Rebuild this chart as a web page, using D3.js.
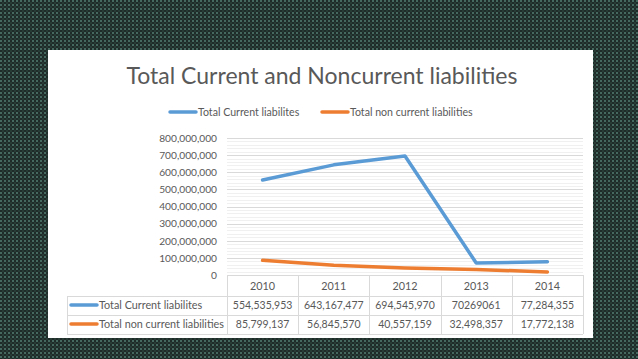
<!DOCTYPE html>
<html lang="en">
<head>
    <meta charset="UTF-8">
    <script src="https://d3js.org/d3.v7.min.js"></script>
    <title>Total Current and Noncurrent liabilities</title>
    <style>
        body { margin: 0; background: #26332f; }
        svg { display: block; }
    </style>
</head>
<body>
    <div id="chart"></div>
    <script>
        // data
        const years = ["2010", "2011", "2012", "2013", "2014"];
        const currentLiab = [554535953, 643167477, 694545970, 70269061, 77284355];
        const nonCurrentLiab = [85799137, 56845570, 40557159, 32498357, 17772138];
        const currentText = ["554,535,953", "643,167,477", "694,545,970", "70269061", "77,284,355"];
        const nonCurrentText = ["85,799,137", "56,845,570", "40,557,159", "32,498,357", "17,772,138"];
        const yTicks = [0, 100000000, 200000000, 300000000, 400000000, 500000000, 600000000, 700000000, 800000000];

        const seriesNames = ["Total Current liabilites", "Total non current liabilities"];
        const colors = ["#5b9bd5", "#ed7d31"];

        const W = 638, H = 359;
        const font = "Lato, 'Open Sans', sans-serif";
        const grey = "#595959";

        const svg = d3.select("#chart").append("svg")
            .attr("width", W)
            .attr("height", H);

        // dotted dark background
        const defs = svg.append("defs");
        const pat = defs.append("pattern")
            .attr("id", "dots")
            .attr("width", 4).attr("height", 4)
            .attr("patternUnits", "userSpaceOnUse");
        pat.append("rect").attr("width", 4).attr("height", 4).attr("fill", "#1f2b28");
        pat.append("rect").attr("x", 0).attr("y", 0).attr("width", 2).attr("height", 2).attr("fill", "#45695e");
        pat.append("rect").attr("x", 2).attr("y", 2).attr("width", 2).attr("height", 2).attr("fill", "#33504772");

        svg.append("rect").attr("width", W).attr("height", H).attr("fill", "url(#dots)");

        // white card
        svg.append("rect")
            .attr("x", 48).attr("y", 50)
            .attr("width", 545).attr("height", 288)
            .attr("fill", "#ffffff");

        // title
        svg.append("text")
            .attr("x", 322).attr("y", 84)
            .attr("text-anchor", "middle")
            .attr("font-family", font)
            .attr("font-size", 23)
            .attr("fill", grey)
            .text("Total Current and Noncurrent liabilities");

        // legend
        const legendPos = [170, 322];
        seriesNames.forEach((name, i) => {
            const g = svg.append("g").attr("transform", `translate(${legendPos[i]},112)`);
            g.append("line")
                .attr("x1", 0).attr("x2", 26)
                .attr("stroke", colors[i])
                .attr("stroke-width", 3.5)
                .attr("stroke-linecap", "round");
            g.append("text")
                .attr("x", 28).attr("y", 4)
                .attr("font-family", font)
                .attr("font-size", 10.6)
                .attr("fill", grey)
                .text(name);
        });

        // scales
        const plotLeft = 227, plotRight = 583;
        const x = d3.scaleBand().domain(years).range([plotLeft, plotRight]).padding(0);
        const y = d3.scaleLinear().domain([0, 800000000]).range([275, 138]);
        const cx = d => x(d) + x.bandwidth() / 2;

        // gridlines (minor + major)
        const minorTicks = d3.range(0, 800000001, 20000000);
        svg.append("g").selectAll("line")
            .data(minorTicks)
            .join("line")
            .attr("x1", plotLeft).attr("x2", plotRight)
            .attr("y1", d => Math.round(y(d)) + 0.5)
            .attr("y2", d => Math.round(y(d)) + 0.5)
            .attr("stroke", "#f0f0f0");

        svg.append("g").selectAll("line")
            .data(yTicks.slice(1))
            .join("line")
            .attr("x1", plotLeft).attr("x2", plotRight)
            .attr("y1", d => Math.round(y(d)) + 0.5)
            .attr("y2", d => Math.round(y(d)) + 0.5)
            .attr("stroke", "#d9d9d9");

        // y axis labels
        const yAxis = d3.axisLeft(y)
            .tickValues(yTicks)
            .tickSize(0)
            .tickPadding(0)
            .tickFormat(d3.format(","));
        const yg = svg.append("g")
            .attr("transform", "translate(217,0)")
            .call(yAxis);
        yg.select(".domain").remove();
        yg.selectAll("text")
            .attr("font-family", font)
            .attr("font-size", 10.2)
            .attr("fill", grey);

        // lines
        const series = [currentLiab, nonCurrentLiab];
        const line = d3.line()
            .x((d, i) => cx(years[i]))
            .y(d => y(d));

        svg.append("g").selectAll("path")
            .data(series)
            .join("path")
            .attr("d", d => line(d))
            .attr("fill", "none")
            .attr("stroke", (d, i) => colors[i])
            .attr("stroke-width", 3.5)
            .attr("stroke-linejoin", "round")
            .attr("stroke-linecap", "round");

        // data table
        const border = "#d9d9d9";
        const tableTop = 275, headerBottom = 296, row1Bottom = 315, row2Bottom = 334;
        const labelLeft = 67;
        const tbl = svg.append("g").attr("fill", "none").attr("stroke", border);

        // horizontal lines
        tbl.append("line").attr("x1", plotLeft).attr("x2", plotRight).attr("y1", tableTop + 0.5).attr("y2", tableTop + 0.5);
        [headerBottom, row1Bottom, row2Bottom].forEach(yy => {
            tbl.append("line").attr("x1", labelLeft).attr("x2", plotRight).attr("y1", yy + 0.5).attr("y2", yy + 0.5);
        });
        // vertical lines
        tbl.append("line").attr("x1", labelLeft + 0.5).attr("x2", labelLeft + 0.5).attr("y1", headerBottom).attr("y2", row2Bottom);
        years.forEach(yr => {
            const xx = Math.round(x(yr)) + 0.5;
            tbl.append("line").attr("x1", xx).attr("x2", xx).attr("y1", tableTop).attr("y2", row2Bottom);
        });
        tbl.append("line").attr("x1", plotRight + 0.5).attr("x2", plotRight + 0.5).attr("y1", tableTop).attr("y2", row2Bottom);

        const cellFont = size => g => g
            .attr("font-family", font)
            .attr("font-size", size)
            .attr("fill", grey);

        // header (years)
        svg.append("g").selectAll("text")
            .data(years)
            .join("text")
            .attr("x", d => cx(d))
            .attr("y", 290)
            .attr("text-anchor", "middle")
            .call(cellFont(10.8))
            .text(d => d);

        const rowY = [309, 328];
        const rowTexts = [currentText, nonCurrentText];
        rowTexts.forEach((vals, r) => {
            svg.append("g").selectAll("text")
                .data(vals)
                .join("text")
                .attr("x", (d, i) => cx(years[i]))
                .attr("y", rowY[r])
                .attr("text-anchor", "middle")
                .call(cellFont(10.5))
                .text(d => d);

            svg.append("line")
                .attr("x1", 71).attr("x2", 97)
                .attr("y1", rowY[r] - 4).attr("y2", rowY[r] - 4)
                .attr("stroke", colors[r])
                .attr("stroke-width", 3.5)
                .attr("stroke-linecap", "round");
            svg.append("text")
                .attr("x", 99).attr("y", rowY[r])
                .call(cellFont(10.8))
                .text(seriesNames[r]);
        });
    </script>
</body>
</html>
